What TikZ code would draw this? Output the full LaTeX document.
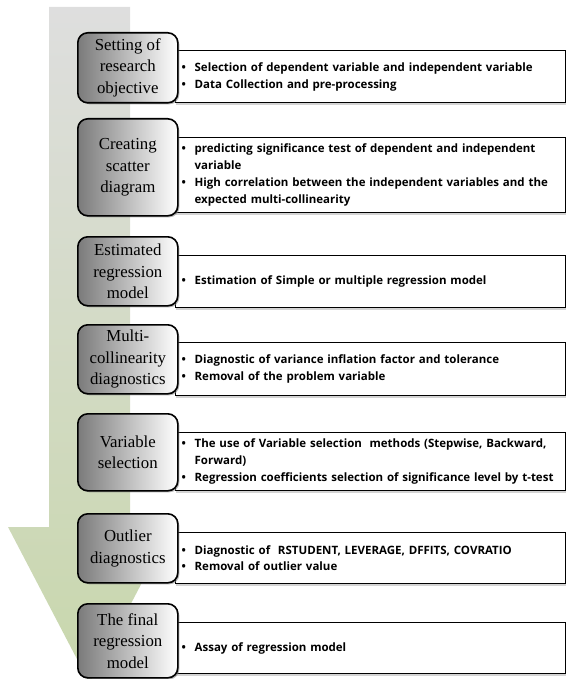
\documentclass[tikz,border=0pt]{standalone}
\usepackage{fontspec}
\setmainfont{Liberation Serif}
\newfontfamily\taskfont{Open Sans}
\usetikzlibrary{shadows}
\definecolor{shaftgray}{HTML}{DEDEDE}
\definecolor{shaftmid}{HTML}{D6DBCA}
\definecolor{headgreen}{HTML}{C8D7AC}
\newcommand{\itm}[1]{\hangindent=13pt\hangafter=1\noindent\makebox[13pt][l]{\textbullet}#1\par}
\tikzset{
  stagebox/.style={draw, line width=1.6pt, rounded corners=10pt,
    left color=black!52, middle color=black!14, right color=white,
    minimum width=100pt, inner sep=0pt, align=center, anchor=north west,
    font=\fontsize{16.8}{21.5}\selectfont,
    drop shadow={shadow xshift=1.5pt, shadow yshift=-1.5pt, opacity=.6}},
  taskbox/.style={draw, line width=1.3pt, fill=white,
    text width=378pt, inner xsep=6pt, inner ysep=0pt, align=left, anchor=north west,
    font=\taskfont\bfseries\fontsize{11.5}{17}\selectfont,
    drop shadow={shadow xshift=0pt, shadow yshift=-2.5pt, opacity=.35}}
}
\begin{document}
\begin{tikzpicture}[x=1pt, y=-1pt]
  \useasboundingbox (0,0) rectangle (566,679);
  % big arrow behind the steps
  \shade[top color=shaftgray, middle color=shaftmid, bottom color=headgreen]
    (49,7) -- (130,7) -- (130,527) -- (171,527) -- (89.5,683) -- (8,527) -- (49,527) -- cycle;
  % steps: stage box on the left, tasks on the right
  \foreach \yl/\hl/\yr/\hr/\title/\items [count=\i] in {
    32/70/50/52/{Setting of\\research\\objective}/{\itm{Selection of dependent variable and independent variable}\itm{Data Collection and pre-processing}},
    118/97/137/75/{Creating\\scatter\\diagram}/{\itm{predicting significance test of dependent and independent\newline variable}\itm{High correlation between the independent variables and the\newline expected multi-collinearity}},
    236/69/255/52/{Estimated\\regression\\model}/{\itm{Estimation of Simple or multiple regression model}},
    324/69/342/53/{Multi-\\collinearity\\diagnostics}/{\itm{Diagnostic of variance inflation factor and tolerance}\itm{Removal of the problem variable}},
    413/77/432/58/{Variable\\selection}/{\itm{The use of Variable selection~ methods (Stepwise, Backward,\newline Forward)}\itm{Regression coefficients selection of significance level by \mbox{t-test}}},
    513/69/532/51/{Outlier\\diagnostics}/{\itm{Diagnostic of~ RSTUDENT, LEVERAGE, DFFITS, COVRATIO}\itm{Removal of outlier value}},
    603/74/622/51/{The final\\regression\\model}/{\itm{Assay of regression model}}} {
    \node[taskbox, minimum height=\hr*1pt] (task\i) at (175,\yr) {\items};
    \node[stagebox, minimum height=\hl*1pt] (stage\i) at (77,\yl) {\title};
  }
\end{tikzpicture}
\end{document}
